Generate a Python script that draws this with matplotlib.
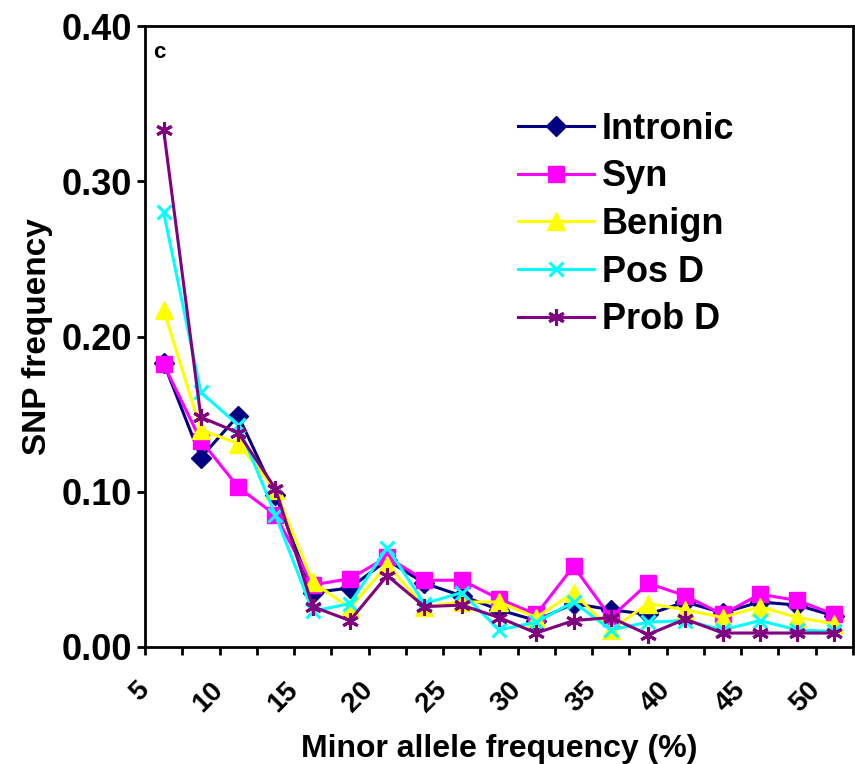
import matplotlib
matplotlib.use("Agg")
import matplotlib.pyplot as plt
import matplotlib.transforms as mtrans
import numpy as np

plt.rcParams['font.family'] = ['Liberation Sans', 'DejaVu Sans']
plt.rcParams['font.weight'] = 'bold'

# lower edge of each 2.5% MAF bin
bins = [5, 7.5, 10, 12.5, 15, 17.5, 20, 22.5, 25, 27.5,
        30, 32.5, 35, 37.5, 40, 42.5, 45, 47.5, 50]

intronic = [0.183, 0.122, 0.149, 0.098, 0.035, 0.038, 0.056, 0.041, 0.033, 0.024,
            0.017, 0.028, 0.024, 0.021, 0.029, 0.022, 0.029, 0.027, 0.020]
syn = [0.182, 0.133, 0.103, 0.085, 0.040, 0.044, 0.058, 0.043, 0.043, 0.031,
       0.021, 0.052, 0.019, 0.041, 0.033, 0.021, 0.034, 0.030, 0.021]
benign = [0.217, 0.140, 0.131, 0.101, 0.042, 0.025, 0.053, 0.026, 0.029, 0.029,
          0.019, 0.035, 0.011, 0.028, 0.024, 0.019, 0.026, 0.019, 0.015]
pos_d = [0.280, 0.164, 0.143, 0.085, 0.023, 0.028, 0.064, 0.028, 0.035, 0.011,
         0.016, 0.029, 0.011, 0.016, 0.017, 0.011, 0.017, 0.011, 0.010]
prob_d = [0.333, 0.148, 0.138, 0.102, 0.026, 0.017, 0.046, 0.026, 0.027, 0.019,
          0.009, 0.017, 0.019, 0.008, 0.018, 0.009, 0.009, 0.009, 0.009]

x = np.array(bins) + 1.25

fig = plt.figure(figsize=(8.55, 7.64), dpi=100)
ax = fig.add_axes([145/855, 117/764, 708/855, 621/764])

ax.plot(x, intronic, color='#000080', marker='D', markersize=10, lw=2.2, label='Intronic')
ax.plot(x, syn, color='#FF00FF', marker='s', markersize=11, lw=2.2, label='Syn')
ax.plot(x, benign, color='#FFFF00', marker='^', markersize=13, lw=2.2, label='Benign')
ax.plot(x, pos_d, color='#00FFFF', marker='x', markersize=10, mew=2.2, lw=2.2, label='Pos D')
ax.plot(x, prob_d, color='#800080', marker=(6, 2, 0), markersize=12, mew=2.2, lw=2.2, label='Prob D')

ax.set_xlim(5, 52.5)
ax.set_ylim(0, 0.40)
ticks = bins + [52.5]
ax.set_xticks(ticks)
ax.set_xticklabels([str(int(t)) if t % 5 == 0 else '' for t in ticks],
                   rotation=45, ha='right', va='center', rotation_mode='anchor')
shift = mtrans.ScaledTranslation(-0.05, 0, fig.dpi_scale_trans)
for lbl in ax.get_xticklabels():
    lbl.set_transform(lbl.get_transform() + shift)
ax.set_yticks([0, 0.1, 0.2, 0.3, 0.4])
ax.set_yticklabels(['0.00', '0.10', '0.20', '0.30', '0.40'])
ax.tick_params(axis='both', direction='out', length=6, width=2)
ax.tick_params(axis='y', labelsize=26)
ax.tick_params(axis='x', labelsize=20, pad=22)
for s in ax.spines.values():
    s.set_linewidth(2)

ax.set_xlabel('Minor allele frequency (%)', fontsize=23, fontweight='bold', labelpad=12)
ax.set_ylabel('SNP frequency', fontsize=24, fontweight='bold', labelpad=6)
ax.text(0.012, 0.975, 'c', transform=ax.transAxes, fontsize=16, fontweight='bold', va='top')

ax.legend(loc='upper left', bbox_to_anchor=(0.527, 0.862), frameon=False, fontsize=26,
          borderpad=0, borderaxespad=0,
          handlelength=2.1, handletextpad=0.22, labelspacing=0.35)

fig.savefig('out.png', dpi=100)
